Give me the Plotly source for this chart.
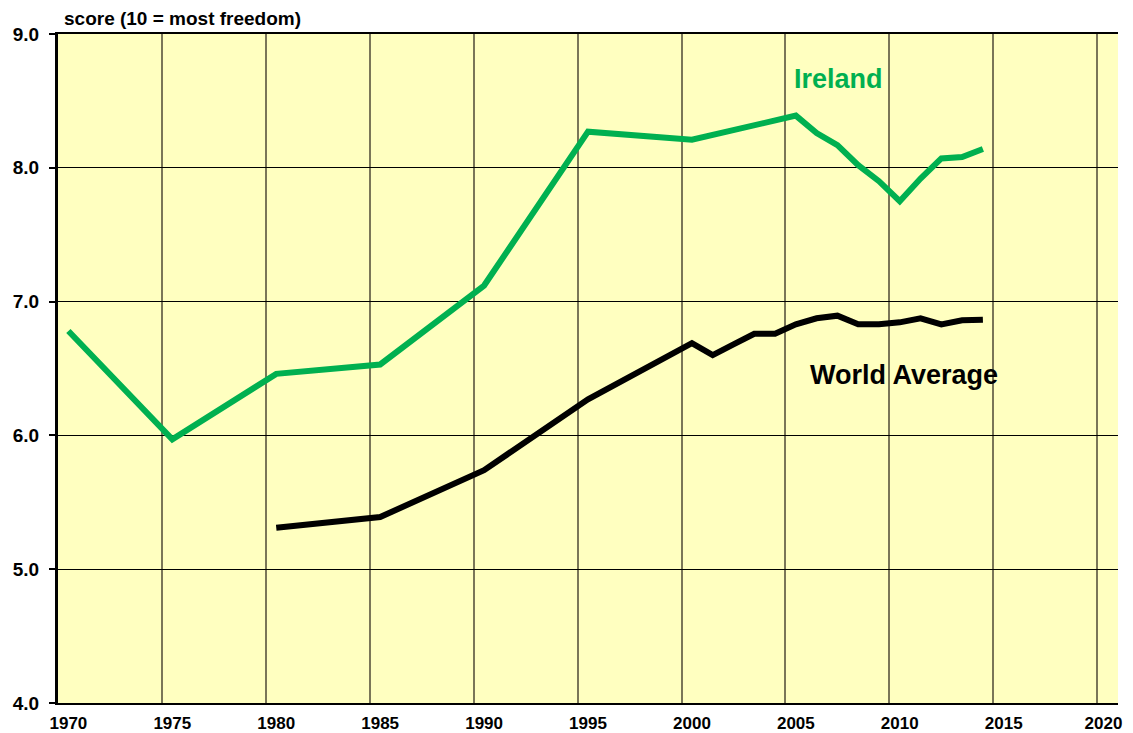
import plotly.graph_objects as go

years_ireland = [1970, 1975, 1980, 1985, 1990, 1995, 2000, 2005, 2006, 2007, 2008,
                 2009, 2010, 2011, 2012, 2013, 2014]
ireland = [6.78, 5.97, 6.46, 6.53, 7.12, 8.27, 8.21, 8.39, 8.26, 8.17, 8.02,
           7.90, 7.75, 7.92, 8.07, 8.08, 8.14]

years_world = [1980, 1985, 1990, 1995, 2000, 2001, 2002, 2003, 2004, 2005, 2006,
               2007, 2008, 2009, 2010, 2011, 2012, 2013, 2014]
world = [5.31, 5.39, 5.74, 6.27, 6.69, 6.60, 6.68, 6.76, 6.76, 6.83, 6.875,
         6.895, 6.83, 6.83, 6.845, 6.875, 6.83, 6.86, 6.865]

x_ticks = list(range(1970, 2021, 5))
x_labels = [str(y) for y in x_ticks]
y_ticks = [4.0, 5.0, 6.0, 7.0, 8.0, 9.0]
y_labels = ["%.1f" % v for v in y_ticks]

X_MIN, X_MAX = 1969.5, 2020.5
# keep the last label inside the chart edge (as in the reference)
x_label_pos = [min(v, X_MAX - 0.7) for v in x_ticks]

GREEN = "#00B050"
FONT = "Liberation Sans, Arial, sans-serif"

fig = go.Figure()
fig.add_trace(go.Scatter(x=years_ireland, y=ireland, mode="lines",
                         line=dict(color=GREEN, width=6), name="Ireland"))
fig.add_trace(go.Scatter(x=years_world, y=world, mode="lines",
                         line=dict(color="#000000", width=6), name="World Average"))

fig.update_layout(
    width=1117, height=725,
    margin=dict(l=50, r=7, t=26, b=30),
    paper_bgcolor="white",
    plot_bgcolor="#FFFFC0",
    showlegend=False,
    font=dict(family=FONT, size=15, color="black"),
    xaxis=dict(
        range=[X_MIN, X_MAX], automargin=False,
        tickmode="array", tickvals=x_label_pos, ticktext=x_labels,
        ticklabeloverflow="allow", ticklabelstandoff=4,
        showgrid=False, ticks="", zeroline=False,
        tickfont=dict(family=FONT, size=17, color="black", weight="bold"),
        showline=True, linecolor="black", linewidth=2, mirror=True,
        minor=dict(tickmode="linear", tick0=X_MIN, dtick=5, showgrid=True,
                   gridcolor="#7A7658", gridwidth=1.5, ticks=""),
    ),
    yaxis=dict(
        range=[4.0, 9.0], automargin=False,
        tickmode="array", tickvals=y_ticks, ticktext=y_labels,
        ticklabeloverflow="allow", ticklabelstandoff=6,
        showgrid=True, gridcolor="#000000", gridwidth=1, zeroline=False,
        ticks="outside", ticklen=6, tickwidth=2, tickcolor="black",
        tickfont=dict(family=FONT, size=19, color="black", weight="bold"),
        showline=True, linecolor="black", linewidth=3,
    ),
    annotations=[
        dict(text="score (10 = most freedom)", xref="paper", yref="paper",
             x=0.004, y=1.0, xanchor="left", yanchor="bottom", yshift=3,
             showarrow=False, font=dict(family=FONT, size=19, color="black", weight="bold")),
        dict(text="Ireland", xref="x", yref="y", x=2007.05, y=8.66,
             showarrow=False, font=dict(family=FONT, size=27, color=GREEN, weight="bold")),
        dict(text="World Average", xref="x", yref="y", x=2010.2, y=6.45,
             showarrow=False, font=dict(family=FONT, size=27, color="black", weight="bold")),
    ],
)

fig.write_html("out.html")
